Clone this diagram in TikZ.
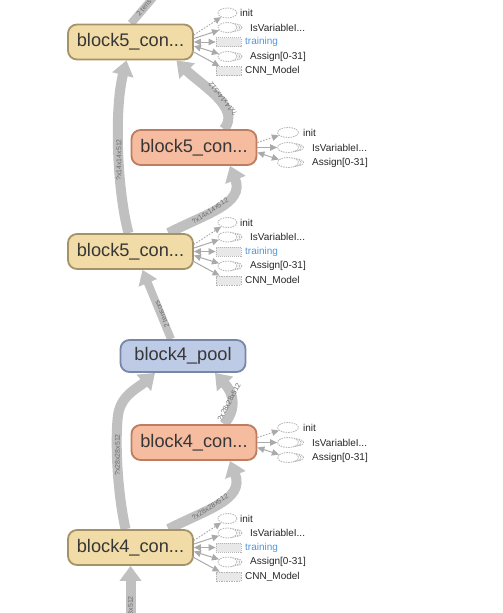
\documentclass[tikz,border=0pt]{standalone}
\usepackage{fontspec}
\setmainfont{Liberation Sans}
\usetikzlibrary{arrows.meta,shapes.geometric,calc,backgrounds}
\definecolor{edgegray}{RGB}{192,192,192}
\definecolor{lblgray}{RGB}{105,105,105}
\definecolor{yfill}{RGB}{241,219,166}
\definecolor{ydraw}{RGB}{166,146,102}
\definecolor{ofill}{RGB}{245,188,160}
\definecolor{odraw}{RGB}{190,124,96}
\definecolor{bfill}{RGB}{190,203,231}
\definecolor{bdraw}{RGB}{120,134,168}
\definecolor{auxgray}{RGB}{170,170,170}
\definecolor{auxline}{RGB}{180,180,180}
\definecolor{trainblue}{RGB}{80,150,220}
\definecolor{txt}{RGB}{55,55,55}
\newcommand\serell[4]{%
  \node[auxell,minimum width={#4-6},minimum height=7pt] (#1bb) at ({#2+8},{#3}) {};
  \node[auxell,minimum width={#4-3},minimum height=8.5pt] (#1b) at ({#2+4},{#3}) {};
  \node[auxell,minimum width=#4] (#1) at ({#2},{#3}) {};
}
\newcommand\yellowaux[2]{%
  \node[auxell,minimum width=19pt] (#1i) at (227.5,{#2-29}) {};
  \node[auxlbl] (#1il) at (240,{#2-29}) {init};
  \serell{#1v}{227.5}{#2-14.5}{19}
  \node[auxlbl] (#1vl) at (250,{#2-14.5}) {IsVariableI...};
  \node[auxrect] (#1t) at (228.5,{#2}) {};
  \node[auxlbl,text=trainblue] (#1tl) at (245,{#2}) {training};
  \serell{#1s}{227.5}{#2+14.5}{19}
  \node[auxlbl] (#1sl) at (250,{#2+14.5}) {Assign[0-31]};
  \node[auxrect,dash pattern=on 1.5pt off 1pt] (#1m) at (228.5,{#2+29}) {};
  \node[auxlbl] (#1ml) at (245,{#2+29}) {CNN\_Model};
  \draw[auxdot] ($(#1.east)+(0,-7)$) -- (#1i);
  \draw[auxarr] ($(#1.east)+(0,-3.5)$) -- (#1v);
  \draw[auxbi] (#1.east) -- (#1t);
  \draw[auxbi] ($(#1.east)+(0,4)$) -- (#1s);
  \draw[auxarr] ($(#1.east)+(-2,9)$) -- (#1m);
}
\newcommand\orangeaux[2]{%
  \node[auxell,minimum width=21pt] (#1i) at (288,{#2-15}) {};
  \node[auxlbl] (#1il) at (303,{#2-15}) {init};
  \serell{#1v}{288}{#2}{21}
  \node[auxlbl] (#1vl) at (312,{#2}) {IsVariableI...};
  \serell{#1s}{288}{#2+15}{21}
  \node[auxlbl] (#1sl) at (312,{#2+15}) {Assign[0-31]};
  \draw[auxdot] ($(#1.east)+(0,-5)$) -- (#1i);
  \draw[auxarr] (#1.east) -- (#1v);
  \draw[auxbi] ($(#1.east)+(0,5)$) -- (#1s);
}
\begin{document}
\begin{tikzpicture}[x=1pt,y=-1pt,
  opnode/.style={rectangle,rounded corners=9pt,line width=1.8pt,minimum width=125pt,minimum height=35pt,inner sep=0pt,font=\fontsize{18.2}{21}\selectfont,text=txt},
  ynode/.style={opnode,fill=yfill,draw=ydraw},
  onode/.style={opnode,fill=ofill,draw=odraw},
  bnode/.style={opnode,fill=bfill,draw=bdraw,minimum height=32pt},
  bigedge/.style={draw=edgegray,line width=10pt,-{Triangle[width=21pt,length=15pt]}},
  midedge/.style={draw=edgegray,line width=8pt,-{Triangle[width=19pt,length=14pt]}},
  elbl/.style={font=\fontsize{7}{8}\selectfont,text=lblgray,inner sep=0pt},
  auxell/.style={ellipse,draw=auxline,fill=white,line width=0.8pt,dash pattern=on 1.5pt off 1pt,inner sep=0pt,minimum height=10pt},
  auxrect/.style={rectangle,draw=auxline,fill=black!9,line width=0.8pt,dash pattern=on 1pt off 1pt,inner sep=0pt,minimum width=25pt,minimum height=9pt},
  auxlbl/.style={anchor=west,inner sep=0pt,font=\fontsize{10}{12}\selectfont,text=black!85},
  auxarr/.style={draw=auxgray,line width=1pt,-{Triangle[width=6.5pt,length=7pt]}},
  auxdot/.style={auxarr,dash pattern=on 1.5pt off 1.5pt},
  auxbi/.style={draw=auxgray,line width=1pt,{Triangle[width=6.5pt,length=7pt]}-{Triangle[width=6.5pt,length=7pt]}},
]
\useasboundingbox (0,0) rectangle (503,613);
\clip (0,0) rectangle (503,613);

\node[ynode] (Y1) at (130.5,42) {block5\_con...};
\node[onode] (O1) at (194,147.5) {block5\_con...};
\node[ynode] (Y2) at (130.5,251.5) {block5\_con...};
\node[bnode] (P4) at (183,356) {block4\_pool};
\node[onode] (O2) at (194,442.5) {block4\_con...};
\node[ynode] (Y3) at (130.5,547.5) {block4\_con...};

\yellowaux{Y1}{42}
\yellowaux{Y2}{251.5}
\yellowaux{Y3}{547.5}
\orangeaux{O1}{147.5}
\orangeaux{O2}{442.5}

\coordinate (inb) at (130.5,650);
\coordinate (outt) at (163,-14);

\begin{pgfonlayer}{background}
\clip (0,0) rectangle (503,613);
% bottom input
\draw[bigedge] (inb) -- (Y3.south);
\node[elbl,rotate=90] (Lin) at (130.5,617) {?x28x28x512};
% Y3 -> P4 (left)
\draw[bigedge] ($(Y3.north)+(-5,0)$) .. controls (117,490) and (115,440) .. (118,415)
  .. controls (121,395) and (138,388) .. ($(P4.south)+(-28,0)$);
\node[elbl,rotate=90] (La) at (117.5,455) {?x28x28x512};
% Y3 -> O2
\draw[bigedge] ($(Y3.north)+(38,0)$) .. controls (205,510) and (245,500) .. ($(O2.south)+(36,0)$);
\node[elbl,rotate=33] (Lb) at (210,507) {?x28x28x512};
% O2 -> P4 (right)
\draw[bigedge] ($(O2.north)+(30,0)$) .. controls (236,410) and (235,395) .. ($(P4.south)+(32,0)$);
\node[elbl,rotate=62] (Lc) at (229,402) {?x28x28x512};
% P4 -> Y2
\draw[midedge] ($(P4.north)+(-12,0)$) -- ($(Y2.south)+(12,0)$);
\node[elbl,rotate=112] (Ld) at (162,314) {2 tensors};
% Y2 -> Y1 (left)
\draw[bigedge] ($(Y2.north)+(-2,0)$) .. controls (117,190) and (114,110) .. ($(Y1.south)+(-4,0)$);
\node[elbl,rotate=90] (Le) at (119,160) {?x14x14x512};
% Y2 -> O1
\draw[bigedge] ($(Y2.north)+(38,0)$) .. controls (205,214) and (245,204) .. ($(O1.south)+(36,0)$);
\node[elbl,rotate=33] (Lf) at (210,211) {?x14x14x512};
% O1 -> Y1 (right)
\draw[bigedge] ($(O1.north)+(30,0)$) .. controls (242,108) and (200,84) .. ($(Y1.south)+(46,0)$);
\node[elbl,rotate=128] (Lg) at (223,99) {?x14x14x512};
% Y1 -> out
\draw[draw=edgegray,line width=8pt] ($(Y1.north)+(0.5,0)$) -- (outt);
\node[elbl,rotate=50] (Lt) at (147,4) {2 tensors};
\end{pgfonlayer}
\end{tikzpicture}
\end{document}
